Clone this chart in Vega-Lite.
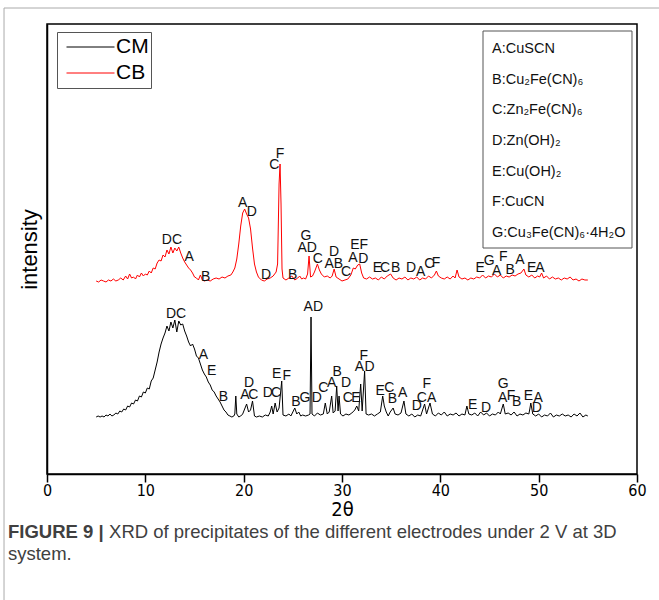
{
  "$schema": "https://vega.github.io/schema/vega-lite/v6.json",
  "width": 590,
  "height": 450,
  "autosize": {"type": "none"},
  "padding": {"left": 47, "top": 24, "right": 22, "bottom": 126},
  "background": "white",
  "config": {
    "view": {"stroke": "black", "strokeWidth": 1.5},
    "font": "Liberation Sans"
  },
  "datasets": {
    "xrd": [
      {"s":"CM","x":5,"y":57},{"s":"CM","x":5.2,"y":58},{"s":"CM","x":5.4,"y":57},{"s":"CM","x":5.6,"y":58},{"s":"CM","x":5.8,"y":57},{"s":"CM","x":6,"y":59},{"s":"CM","x":6.2,"y":58},{"s":"CM","x":6.4,"y":60},{"s":"CM","x":6.6,"y":58},{"s":"CM","x":6.8,"y":59},{"s":"CM","x":7,"y":61},{"s":"CM","x":7.2,"y":60},{"s":"CM","x":7.4,"y":63},{"s":"CM","x":7.6,"y":62},{"s":"CM","x":7.8,"y":65},{"s":"CM","x":8,"y":64},{"s":"CM","x":8.2,"y":68},{"s":"CM","x":8.4,"y":67},{"s":"CM","x":8.6,"y":71},{"s":"CM","x":8.8,"y":70},{"s":"CM","x":9,"y":74},{"s":"CM","x":9.2,"y":73},{"s":"CM","x":9.4,"y":78},{"s":"CM","x":9.6,"y":77},{"s":"CM","x":9.8,"y":82},{"s":"CM","x":10,"y":81},{"s":"CM","x":10.2,"y":86},{"s":"CM","x":10.4,"y":85},{"s":"CM","x":10.6,"y":93},{"s":"CM","x":10.8,"y":96},{"s":"CM","x":11,"y":104},{"s":"CM","x":11.2,"y":112},{"s":"CM","x":11.4,"y":122},{"s":"CM","x":11.6,"y":130},{"s":"CM","x":11.8,"y":136},{"s":"CM","x":12,"y":141},{"s":"CM","x":12.2,"y":148},{"s":"CM","x":12.4,"y":143},{"s":"CM","x":12.6,"y":152},{"s":"CM","x":12.8,"y":146},{"s":"CM","x":13,"y":154},{"s":"CM","x":13.2,"y":142},{"s":"CM","x":13.4,"y":153},{"s":"CM","x":13.6,"y":149},{"s":"CM","x":13.8,"y":150},{"s":"CM","x":14,"y":143},{"s":"CM","x":14.2,"y":138},{"s":"CM","x":14.4,"y":132},{"s":"CM","x":14.6,"y":128},{"s":"CM","x":14.8,"y":130},{"s":"CM","x":15,"y":125},{"s":"CM","x":15.2,"y":118},{"s":"CM","x":15.4,"y":116},{"s":"CM","x":15.6,"y":110},{"s":"CM","x":15.8,"y":104},{"s":"CM","x":16,"y":100},{"s":"CM","x":16.2,"y":97},{"s":"CM","x":16.4,"y":92},{"s":"CM","x":16.6,"y":89},{"s":"CM","x":16.8,"y":84},{"s":"CM","x":17,"y":82},{"s":"CM","x":17.2,"y":78},{"s":"CM","x":17.4,"y":75},{"s":"CM","x":17.6,"y":72},{"s":"CM","x":17.8,"y":68},{"s":"CM","x":18,"y":64},{"s":"CM","x":18.2,"y":62},{"s":"CM","x":18.4,"y":59},{"s":"CM","x":18.6,"y":58},{"s":"CM","x":18.8,"y":57},{"s":"CM","x":19,"y":58},{"s":"CM","x":19.1,"y":60},{"s":"CM","x":19.2,"y":78},{"s":"CM","x":19.3,"y":60},{"s":"CM","x":19.5,"y":57},{"s":"CM","x":19.7,"y":58},{"s":"CM","x":19.9,"y":60},{"s":"CM","x":20.1,"y":65},{"s":"CM","x":20.3,"y":70},{"s":"CM","x":20.5,"y":62},{"s":"CM","x":20.7,"y":64},{"s":"CM","x":20.9,"y":73},{"s":"CM","x":21.1,"y":58},{"s":"CM","x":21.3,"y":57},{"s":"CM","x":21.6,"y":58},{"s":"CM","x":21.9,"y":57},{"s":"CM","x":22.2,"y":59},{"s":"CM","x":22.5,"y":58},{"s":"CM","x":22.7,"y":62},{"s":"CM","x":22.85,"y":68},{"s":"CM","x":23,"y":60},{"s":"CM","x":23.2,"y":71},{"s":"CM","x":23.4,"y":62},{"s":"CM","x":23.6,"y":66},{"s":"CM","x":23.87,"y":93},{"s":"CM","x":24,"y":59},{"s":"CM","x":24.3,"y":58},{"s":"CM","x":24.6,"y":60},{"s":"CM","x":24.8,"y":58},{"s":"CM","x":25,"y":62},{"s":"CM","x":25.2,"y":66},{"s":"CM","x":25.4,"y":60},{"s":"CM","x":25.6,"y":62},{"s":"CM","x":25.8,"y":58},{"s":"CM","x":26,"y":59},{"s":"CM","x":26.3,"y":58},{"s":"CM","x":26.6,"y":59},{"s":"CM","x":26.75,"y":60},{"s":"CM","x":26.85,"y":157},{"s":"CM","x":26.95,"y":60},{"s":"CM","x":27.2,"y":58},{"s":"CM","x":27.5,"y":61},{"s":"CM","x":27.8,"y":59},{"s":"CM","x":28.1,"y":60},{"s":"CM","x":28.3,"y":71},{"s":"CM","x":28.5,"y":60},{"s":"CM","x":28.7,"y":62},{"s":"CM","x":28.95,"y":78},{"s":"CM","x":29.1,"y":61},{"s":"CM","x":29.3,"y":63},{"s":"CM","x":29.46,"y":88},{"s":"CM","x":29.6,"y":63},{"s":"CM","x":29.7,"y":78},{"s":"CM","x":29.85,"y":60},{"s":"CM","x":30.1,"y":58},{"s":"CM","x":30.4,"y":60},{"s":"CM","x":30.7,"y":59},{"s":"CM","x":31,"y":61},{"s":"CM","x":31.3,"y":64},{"s":"CM","x":31.5,"y":68},{"s":"CM","x":31.7,"y":63},{"s":"CM","x":31.9,"y":90},{"s":"CM","x":32.05,"y":63},{"s":"CM","x":32.3,"y":103},{"s":"CM","x":32.45,"y":60},{"s":"CM","x":32.7,"y":59},{"s":"CM","x":33,"y":60},{"s":"CM","x":33.3,"y":58},{"s":"CM","x":33.6,"y":60},{"s":"CM","x":33.9,"y":62},{"s":"CM","x":34.14,"y":78},{"s":"CM","x":34.3,"y":68},{"s":"CM","x":34.5,"y":62},{"s":"CM","x":34.7,"y":58},{"s":"CM","x":34.9,"y":62},{"s":"CM","x":35.2,"y":66},{"s":"CM","x":35.4,"y":60},{"s":"CM","x":35.7,"y":59},{"s":"CM","x":36,"y":61},{"s":"CM","x":36.3,"y":73},{"s":"CM","x":36.5,"y":60},{"s":"CM","x":36.8,"y":58},{"s":"CM","x":37.1,"y":60},{"s":"CM","x":37.4,"y":57},{"s":"CM","x":37.7,"y":59},{"s":"CM","x":38,"y":58},{"s":"CM","x":38.4,"y":70},{"s":"CM","x":38.6,"y":60},{"s":"CM","x":38.95,"y":71},{"s":"CM","x":39.2,"y":60},{"s":"CM","x":39.5,"y":58},{"s":"CM","x":39.8,"y":61},{"s":"CM","x":40.1,"y":59},{"s":"CM","x":40.4,"y":62},{"s":"CM","x":40.7,"y":58},{"s":"CM","x":41,"y":60},{"s":"CM","x":41.3,"y":59},{"s":"CM","x":41.6,"y":61},{"s":"CM","x":41.9,"y":58},{"s":"CM","x":42.2,"y":60},{"s":"CM","x":42.5,"y":59},{"s":"CM","x":42.7,"y":68},{"s":"CM","x":42.9,"y":60},{"s":"CM","x":43.2,"y":59},{"s":"CM","x":43.5,"y":61},{"s":"CM","x":43.8,"y":58},{"s":"CM","x":44.1,"y":62},{"s":"CM","x":44.4,"y":59},{"s":"CM","x":44.7,"y":61},{"s":"CM","x":45,"y":58},{"s":"CM","x":45.3,"y":60},{"s":"CM","x":45.6,"y":59},{"s":"CM","x":45.9,"y":62},{"s":"CM","x":46.1,"y":60},{"s":"CM","x":46.4,"y":70},{"s":"CM","x":46.6,"y":60},{"s":"CM","x":46.9,"y":61},{"s":"CM","x":47.2,"y":59},{"s":"CM","x":47.5,"y":62},{"s":"CM","x":47.8,"y":58},{"s":"CM","x":48.1,"y":60},{"s":"CM","x":48.4,"y":59},{"s":"CM","x":48.7,"y":61},{"s":"CM","x":49,"y":60},{"s":"CM","x":49.1,"y":65},{"s":"CM","x":49.2,"y":71},{"s":"CM","x":49.4,"y":60},{"s":"CM","x":49.7,"y":58},{"s":"CM","x":50,"y":60},{"s":"CM","x":50.3,"y":57},{"s":"CM","x":50.6,"y":59},{"s":"CM","x":50.9,"y":58},{"s":"CM","x":51.2,"y":61},{"s":"CM","x":51.5,"y":57},{"s":"CM","x":51.8,"y":59},{"s":"CM","x":52.1,"y":58},{"s":"CM","x":52.4,"y":60},{"s":"CM","x":52.7,"y":58},{"s":"CM","x":53,"y":59},{"s":"CM","x":53.3,"y":57},{"s":"CM","x":53.6,"y":60},{"s":"CM","x":53.9,"y":58},{"s":"CM","x":54.2,"y":61},{"s":"CM","x":54.5,"y":57},{"s":"CM","x":54.8,"y":59},{"s":"CM","x":55,"y":58},
      {"s":"CB","x":5,"y":193},{"s":"CB","x":5.25,"y":192},{"s":"CB","x":5.5,"y":194},{"s":"CB","x":5.75,"y":193},{"s":"CB","x":6,"y":192},{"s":"CB","x":6.25,"y":194},{"s":"CB","x":6.5,"y":193},{"s":"CB","x":6.75,"y":195},{"s":"CB","x":7,"y":193},{"s":"CB","x":7.25,"y":194},{"s":"CB","x":7.5,"y":196},{"s":"CB","x":7.75,"y":194},{"s":"CB","x":8,"y":198},{"s":"CB","x":8.2,"y":195},{"s":"CB","x":8.4,"y":200},{"s":"CB","x":8.6,"y":196},{"s":"CB","x":8.8,"y":197},{"s":"CB","x":9,"y":195},{"s":"CB","x":9.2,"y":199},{"s":"CB","x":9.4,"y":197},{"s":"CB","x":9.6,"y":201},{"s":"CB","x":9.8,"y":198},{"s":"CB","x":10,"y":200},{"s":"CB","x":10.2,"y":199},{"s":"CB","x":10.4,"y":203},{"s":"CB","x":10.6,"y":201},{"s":"CB","x":10.8,"y":206},{"s":"CB","x":11,"y":205},{"s":"CB","x":11.2,"y":211},{"s":"CB","x":11.4,"y":214},{"s":"CB","x":11.6,"y":213},{"s":"CB","x":11.8,"y":219},{"s":"CB","x":12,"y":217},{"s":"CB","x":12.2,"y":224},{"s":"CB","x":12.4,"y":220},{"s":"CB","x":12.6,"y":227},{"s":"CB","x":12.8,"y":221},{"s":"CB","x":13,"y":226},{"s":"CB","x":13.2,"y":223},{"s":"CB","x":13.4,"y":227},{"s":"CB","x":13.6,"y":221},{"s":"CB","x":13.8,"y":216},{"s":"CB","x":14,"y":212},{"s":"CB","x":14.2,"y":209},{"s":"CB","x":14.4,"y":206},{"s":"CB","x":14.6,"y":204},{"s":"CB","x":14.8,"y":201},{"s":"CB","x":15,"y":197},{"s":"CB","x":15.2,"y":196},{"s":"CB","x":15.4,"y":194},{"s":"CB","x":15.6,"y":199},{"s":"CB","x":15.8,"y":194},{"s":"CB","x":16,"y":193},{"s":"CB","x":16.3,"y":194},{"s":"CB","x":16.6,"y":193},{"s":"CB","x":16.9,"y":195},{"s":"CB","x":17.2,"y":196},{"s":"CB","x":17.5,"y":195},{"s":"CB","x":17.8,"y":197},{"s":"CB","x":18.1,"y":196},{"s":"CB","x":18.4,"y":198},{"s":"CB","x":18.7,"y":199},{"s":"CB","x":18.9,"y":202},{"s":"CB","x":19.1,"y":206},{"s":"CB","x":19.3,"y":215},{"s":"CB","x":19.5,"y":230},{"s":"CB","x":19.7,"y":248},{"s":"CB","x":19.9,"y":261},{"s":"CB","x":20.1,"y":265},{"s":"CB","x":20.3,"y":260},{"s":"CB","x":20.5,"y":256},{"s":"CB","x":20.7,"y":245},{"s":"CB","x":20.9,"y":226},{"s":"CB","x":21.1,"y":210},{"s":"CB","x":21.3,"y":202},{"s":"CB","x":21.5,"y":197},{"s":"CB","x":21.8,"y":194},{"s":"CB","x":22.1,"y":193},{"s":"CB","x":22.4,"y":195},{"s":"CB","x":22.7,"y":196},{"s":"CB","x":23,"y":198},{"s":"CB","x":23.3,"y":202},{"s":"CB","x":23.45,"y":210},{"s":"CB","x":23.6,"y":290},{"s":"CB","x":23.7,"y":310},{"s":"CB","x":23.8,"y":270},{"s":"CB","x":23.9,"y":205},{"s":"CB","x":24,"y":196},{"s":"CB","x":24.3,"y":194},{"s":"CB","x":24.6,"y":196},{"s":"CB","x":24.9,"y":198},{"s":"CB","x":25.2,"y":194},{"s":"CB","x":25.5,"y":196},{"s":"CB","x":25.7,"y":198},{"s":"CB","x":25.9,"y":195},{"s":"CB","x":26.1,"y":196},{"s":"CB","x":26.3,"y":195},{"s":"CB","x":26.5,"y":200},{"s":"CB","x":26.65,"y":218},{"s":"CB","x":26.8,"y":197},{"s":"CB","x":27,"y":198},{"s":"CB","x":27.2,"y":202},{"s":"CB","x":27.5,"y":210},{"s":"CB","x":27.7,"y":204},{"s":"CB","x":27.9,"y":200},{"s":"CB","x":28.2,"y":197},{"s":"CB","x":28.5,"y":198},{"s":"CB","x":28.8,"y":196},{"s":"CB","x":29,"y":198},{"s":"CB","x":29.2,"y":205},{"s":"CB","x":29.4,"y":197},{"s":"CB","x":29.7,"y":195},{"s":"CB","x":30,"y":193},{"s":"CB","x":30.3,"y":194},{"s":"CB","x":30.6,"y":195},{"s":"CB","x":30.9,"y":199},{"s":"CB","x":31.15,"y":206},{"s":"CB","x":31.35,"y":205},{"s":"CB","x":31.6,"y":209},{"s":"CB","x":31.8,"y":210},{"s":"CB","x":32,"y":201},{"s":"CB","x":32.2,"y":196},{"s":"CB","x":32.5,"y":195},{"s":"CB","x":32.8,"y":197},{"s":"CB","x":33.1,"y":195},{"s":"CB","x":33.4,"y":196},{"s":"CB","x":33.7,"y":194},{"s":"CB","x":34,"y":197},{"s":"CB","x":34.3,"y":195},{"s":"CB","x":34.6,"y":198},{"s":"CB","x":34.95,"y":200},{"s":"CB","x":35.2,"y":196},{"s":"CB","x":35.5,"y":194},{"s":"CB","x":35.8,"y":196},{"s":"CB","x":36.1,"y":195},{"s":"CB","x":36.4,"y":197},{"s":"CB","x":36.7,"y":194},{"s":"CB","x":37,"y":196},{"s":"CB","x":37.3,"y":195},{"s":"CB","x":37.6,"y":197},{"s":"CB","x":37.9,"y":194},{"s":"CB","x":38.2,"y":196},{"s":"CB","x":38.5,"y":195},{"s":"CB","x":38.8,"y":198},{"s":"CB","x":39.1,"y":196},{"s":"CB","x":39.4,"y":199},{"s":"CB","x":39.6,"y":203},{"s":"CB","x":39.8,"y":198},{"s":"CB","x":40.1,"y":196},{"s":"CB","x":40.4,"y":195},{"s":"CB","x":40.7,"y":197},{"s":"CB","x":41,"y":195},{"s":"CB","x":41.3,"y":198},{"s":"CB","x":41.5,"y":196},{"s":"CB","x":41.7,"y":204},{"s":"CB","x":41.9,"y":197},{"s":"CB","x":42.2,"y":195},{"s":"CB","x":42.5,"y":196},{"s":"CB","x":42.8,"y":194},{"s":"CB","x":43.1,"y":196},{"s":"CB","x":43.4,"y":195},{"s":"CB","x":43.7,"y":197},{"s":"CB","x":44,"y":196},{"s":"CB","x":44.3,"y":199},{"s":"CB","x":44.6,"y":196},{"s":"CB","x":44.9,"y":198},{"s":"CB","x":45.2,"y":197},{"s":"CB","x":45.5,"y":200},{"s":"CB","x":45.8,"y":197},{"s":"CB","x":46.1,"y":199},{"s":"CB","x":46.4,"y":196},{"s":"CB","x":46.7,"y":198},{"s":"CB","x":47,"y":197},{"s":"CB","x":47.3,"y":199},{"s":"CB","x":47.6,"y":198},{"s":"CB","x":47.9,"y":200},{"s":"CB","x":48.2,"y":201},{"s":"CB","x":48.5,"y":205},{"s":"CB","x":48.7,"y":199},{"s":"CB","x":49,"y":197},{"s":"CB","x":49.3,"y":199},{"s":"CB","x":49.6,"y":196},{"s":"CB","x":49.9,"y":198},{"s":"CB","x":50.1,"y":197},{"s":"CB","x":50.3,"y":201},{"s":"CB","x":50.5,"y":196},{"s":"CB","x":50.8,"y":198},{"s":"CB","x":51.1,"y":195},{"s":"CB","x":51.4,"y":197},{"s":"CB","x":51.7,"y":195},{"s":"CB","x":52,"y":196},{"s":"CB","x":52.3,"y":194},{"s":"CB","x":52.6,"y":196},{"s":"CB","x":52.9,"y":195},{"s":"CB","x":53.2,"y":197},{"s":"CB","x":53.5,"y":194},{"s":"CB","x":53.8,"y":195},{"s":"CB","x":54.1,"y":193},{"s":"CB","x":54.4,"y":195},{"s":"CB","x":54.7,"y":194},{"s":"CB","x":55,"y":194}
    ],
    "peaks": [
      {"x":12.71,"y":234.5,"t":"DC"},{"x":14.47,"y":217,"t":"A"},{"x":16.14,"y":197.3,"t":"B"},{"x":19.9,"y":271.3,"t":"A"},{"x":20.82,"y":262,"t":"D"},{"x":22.27,"y":198.7,"t":"D"},{"x":23.12,"y":308.7,"t":"C"},{"x":23.7,"y":320.3,"t":"F"},{"x":24.99,"y":198.7,"t":"B"},{"x":26.34,"y":238,"t":"G"},{"x":26.46,"y":226.3,"t":"AD"},{"x":27.53,"y":214.7,"t":"C"},{"x":29.19,"y":222,"t":"D"},{"x":29.17,"y":209.7,"t":"AB"},{"x":30.41,"y":202,"t":"C"},{"x":31.75,"y":229,"t":"EF"},{"x":31.12,"y":216,"t":"A"},{"x":32.17,"y":215,"t":"D"},{"x":33.59,"y":205.7,"t":"E"},{"x":34.37,"y":205.7,"t":"C"},{"x":35.46,"y":205.7,"t":"B"},{"x":37.02,"y":205.7,"t":"D"},{"x":38.0,"y":202.3,"t":"A"},{"x":38.88,"y":210.3,"t":"C"},{"x":39.56,"y":211.3,"t":"F"},{"x":44.04,"y":205.7,"t":"E"},{"x":44.98,"y":213,"t":"G"},{"x":45.73,"y":203,"t":"A"},{"x":46.4,"y":217,"t":"F"},{"x":47.09,"y":203.7,"t":"B"},{"x":48.1,"y":213.7,"t":"A"},{"x":49.29,"y":205.7,"t":"E"},{"x":50.14,"y":205.7,"t":"A"},
      {"x":13.12,"y":160.3,"t":"DC"},{"x":15.9,"y":118.7,"t":"A"},{"x":16.75,"y":103,"t":"E"},{"x":17.93,"y":77.3,"t":"B"},{"x":20.54,"y":91.3,"t":"D"},{"x":20.14,"y":78.7,"t":"A"},{"x":20.98,"y":78.7,"t":"C"},{"x":22.45,"y":81.3,"t":"D"},{"x":23.29,"y":81.3,"t":"C"},{"x":23.36,"y":99.7,"t":"E"},{"x":24.38,"y":98,"t":"F"},{"x":25.32,"y":72,"t":"B"},{"x":26.24,"y":75.7,"t":"G"},{"x":27.43,"y":75.7,"t":"D"},{"x":27.08,"y":167,"t":"AD"},{"x":28.1,"y":85.7,"t":"C"},{"x":28.95,"y":91.3,"t":"A"},{"x":29.52,"y":102,"t":"B"},{"x":30.41,"y":91.3,"t":"D"},{"x":30.58,"y":75.7,"t":"C"},{"x":31.42,"y":75.7,"t":"E"},{"x":32.22,"y":118,"t":"F"},{"x":31.76,"y":107,"t":"A"},{"x":32.8,"y":107,"t":"D"},{"x":33.87,"y":83,"t":"E"},{"x":34.81,"y":86.3,"t":"C"},{"x":35.12,"y":74.7,"t":"B"},{"x":36.17,"y":81.3,"t":"A"},{"x":38.61,"y":89.7,"t":"F"},{"x":38.11,"y":76.3,"t":"C"},{"x":39.12,"y":76.3,"t":"A"},{"x":37.6,"y":68,"t":"D"},{"x":43.29,"y":69,"t":"E"},{"x":44.65,"y":65.7,"t":"D"},{"x":46.4,"y":89.7,"t":"G"},{"x":46.34,"y":76.3,"t":"A"},{"x":47.19,"y":78,"t":"F"},{"x":47.77,"y":72.3,"t":"B"},{"x":48.95,"y":78,"t":"E"},{"x":49.96,"y":76.3,"t":"A"},{"x":49.8,"y":65.7,"t":"D"}
    ],
    "box": [
      {"t":"A:CuSCN","y":425},{"t":"B:Cu₂Fe(CN)₆","y":394},{"t":"C:Zn₂Fe(CN)₆","y":364},{"t":"D:Zn(OH)₂","y":333},{"t":"E:Cu(OH)₂","y":302},{"t":"F:CuCN","y":272},{"t":"G:Cu₃Fe(CN)₆·4H₂O","y":241}
    ]
  },
  "layer": [
    {
      "data": {"name": "xrd"},
      "mark": {"type": "line", "strokeWidth": 1},
      "encoding": {
        "x": {"field": "x", "type": "quantitative",
          "scale": {"domain": [0, 60], "nice": false, "zero": false},
          "axis": {"values": [0,10,20,30,40,50,60], "title": "2θ", "grid": false, "labelFlush": false,
            "domainColor": "black", "domainWidth": 1.5, "tickColor": "black", "tickWidth": 1.5, "tickSize": 8,
            "labelFont": "DejaVu Sans Condensed, sans-serif", "labelFontSize": 16, "labelColor": "black", "labelPadding": 0,
            "titleFont": "DejaVu Sans Condensed, sans-serif", "titleFontSize": 20, "titleFontWeight": "normal", "titleColor": "black", "titlePadding": 1}},
        "y": {"field": "y", "type": "quantitative",
          "scale": {"domain": [0, 450], "nice": false, "zero": false},
          "axis": {"title": "intensity", "ticks": false, "labels": false, "grid": false,
            "domainColor": "black", "domainWidth": 1.5,
            "titleFont": "Liberation Sans", "titleFontSize": 22, "titleFontWeight": "normal", "titleColor": "black", "titlePadding": 6}},
        "color": {"field": "s", "type": "nominal",
          "scale": {"domain": ["CM", "CB"], "range": ["#000000", "#ff0000"]},
          "legend": {"title": null, "orient": "none", "legendX": 10, "legendY": 8,
            "symbolType": "stroke", "symbolSize": 2304, "symbolStrokeWidth": 1, "symbolOffset": 7,
            "labelFontSize": 21, "labelFont": "Liberation Sans", "labelColor": "black", "labelOffset": 1,
            "clipHeight": 26, "rowPadding": 0, "padding": 2, "strokeColor": "#555555", "fillColor": "white"}}
      }
    },
    {
      "data": {"name": "peaks"},
      "mark": {"type": "text", "fontSize": 14, "baseline": "middle", "align": "center", "color": "#111111"},
      "encoding": {
        "x": {"field": "x", "type": "quantitative"},
        "y": {"field": "y", "type": "quantitative"},
        "text": {"field": "t"}
      }
    },
    {
      "data": {"values": [{}]},
      "mark": {"type": "rect", "fill": null, "fillOpacity": 0, "stroke": "#555555", "strokeWidth": 1},
      "encoding": {
        "x": {"datum": 44.34, "type": "quantitative"}, "x2": {"datum": 59.49},
        "y": {"datum": 443, "type": "quantitative"}, "y2": {"datum": 226}
      }
    },
    {
      "data": {"name": "box"},
      "mark": {"type": "text", "fontSize": 14.5, "baseline": "middle", "align": "left", "color": "#111111"},
      "encoding": {
        "x": {"datum": 45.26, "type": "quantitative"},
        "y": {"field": "y", "type": "quantitative"},
        "text": {"field": "t"}
      }
    },
    {
      "data": {"values": [{}]},
      "mark": {"type": "text", "text": "FIGURE 9 |", "fontSize": 18.5, "fontWeight": "bold", "baseline": "middle", "align": "left", "color": "#404040", "font": "Liberation Sans"},
      "encoding": {"x": {"datum": -3.97, "type": "quantitative"}, "y": {"datum": -58, "type": "quantitative"}}
    },
    {
      "data": {"values": [{}]},
      "mark": {"type": "text", "text": "XRD of precipitates of the different electrodes under 2 V at 3D", "fontSize": 18.5, "baseline": "middle", "align": "left", "color": "#404040", "font": "Liberation Sans"},
      "encoding": {"x": {"datum": 6.31, "type": "quantitative"}, "y": {"datum": -58, "type": "quantitative"}}
    },
    {
      "data": {"values": [{}]},
      "mark": {"type": "text", "text": "system.", "fontSize": 18.5, "baseline": "middle", "align": "left", "color": "#404040", "font": "Liberation Sans"},
      "encoding": {"x": {"datum": -3.97, "type": "quantitative"}, "y": {"datum": -80, "type": "quantitative"}}
    },
    {
      "data": {"values": [{}]},
      "mark": {"type": "rule", "color": "#aaaaaa", "strokeWidth": 1},
      "encoding": {"x": {"datum": -4.37, "type": "quantitative"}, "y": {"datum": 466, "type": "quantitative"}, "y2": {"datum": -127}}
    },
    {
      "data": {"values": [{}]},
      "mark": {"type": "rule", "color": "#aaaaaa", "strokeWidth": 1},
      "encoding": {"x": {"datum": -4.37, "type": "quantitative"}, "x2": {"datum": 62.3}, "y": {"datum": 466, "type": "quantitative"}}
    }
  ]
}
